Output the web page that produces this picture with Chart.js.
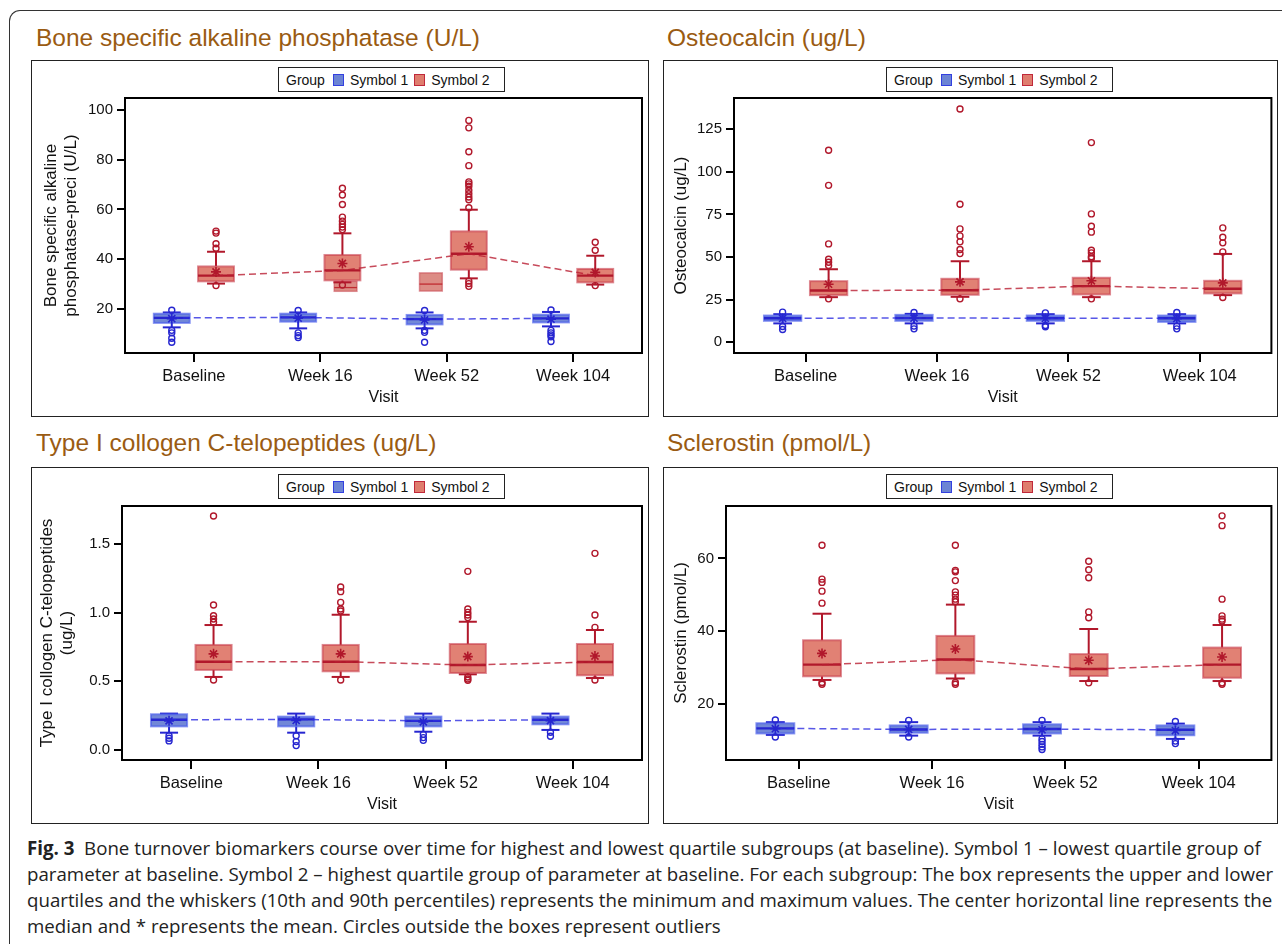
<!DOCTYPE html>
<html>
<head>
<meta charset="utf-8">
<script src="https://cdn.jsdelivr.net/npm/chart.js@4.4.1/dist/chart.umd.min.js"></script>
<style>
  body { margin: 0; width: 1282px; height: 944px; overflow: hidden; background: #fff; position: relative;
         font-family: "Liberation Sans", Arial, sans-serif; }
  #outer { position: absolute; left: 9px; top: 10px; width: 1400px; height: 1000px;
           border-left: 1.5px solid #333; border-top: 1.5px solid #333; border-top-left-radius: 11px; }
  .title { position: absolute; font-size: 24.5px; line-height: 28px; color: #9a5b12; white-space: nowrap; }
  .panel { position: absolute; border: 1.5px solid #222; box-sizing: border-box; }
  canvas { position: absolute; }
  .legend { position: absolute; height: 25px; box-sizing: border-box; border: 1.5px solid #222; background: #fff;
            font-size: 14px; color: #111; display: flex; align-items: center; padding-left: 7px; white-space: nowrap; z-index: 2; }
  .sw { display: inline-block; width: 9px; height: 10px; margin: 0 6px 0 8px; }
  .sw.b { background: #6c84d4; border: 1.5px solid #3340e0; }
  .sw.r { background: #df7d6e; border: 1.5px solid #c0283a; margin-left: 6px; }
  #caption { position: absolute; left: 27px; top: 835px; font-family: "Open Sans", "Noto Sans", sans-serif;
             font-size: 16px; line-height: 26px; color: #222; white-space: nowrap; }
</style>
</head>
<body>
<div id="outer"></div>

<div class="title" style="left:36px;top:24px">Bone specific alkaline phosphatase (U/L)</div>
<div class="title" style="left:667px;top:24px">Osteocalcin (ug/L)</div>
<div class="title" style="left:36px;top:429px">Type I collogen C-telopeptides (ug/L)</div>
<div class="title" style="left:667px;top:429px">Sclerostin (pmol/L)</div>

<div class="panel" style="left:31px;top:60px;width:618px;height:357px"></div>
<div class="panel" style="left:663px;top:60px;width:615px;height:357px"></div>
<div class="panel" style="left:31px;top:467px;width:618px;height:357px"></div>
<div class="panel" style="left:663px;top:467px;width:615px;height:357px"></div>

<canvas id="c1" style="left:31px;top:60px"></canvas>
<canvas id="c2" style="left:663px;top:60px"></canvas>
<canvas id="c3" style="left:31px;top:467px"></canvas>
<canvas id="c4" style="left:663px;top:467px"></canvas>

<div class="legend" style="left:278px;top:67px;width:227px">Group<span class="sw b"></span>Symbol 1<span class="sw r"></span>Symbol 2</div>
<div class="legend" style="left:886px;top:67px;width:227px">Group<span class="sw b"></span>Symbol 1<span class="sw r"></span>Symbol 2</div>
<div class="legend" style="left:278px;top:474px;width:227px">Group<span class="sw b"></span>Symbol 1<span class="sw r"></span>Symbol 2</div>
<div class="legend" style="left:886px;top:474px;width:227px">Group<span class="sw b"></span>Symbol 1<span class="sw r"></span>Symbol 2</div>

<div id="caption">
  <div id="cap1"><b>Fig. 3</b>&nbsp; Bone turnover biomarkers course over time for highest and lowest quartile subgroups (at baseline). Symbol 1 – lowest quartile group of</div>
  <div>parameter at baseline. Symbol 2 – highest quartile group of parameter at baseline. For each subgroup: The box represents the upper and lower</div>
  <div>quartiles and the whiskers (10th and 90th percentiles) represents the minimum and maximum values. The center horizontal line represents the</div>
  <div>median and * represents the mean. Circles outside the boxes represent outliers</div>
</div>

<script>
const visits = ['Baseline', 'Week 16', 'Week 52', 'Week 104'];

// box summaries per visit: [whisker low, q1, median, q3, whisker high]
const bsapBlueBox = [[12.6, 14.4, 16.4, 18.1, 18.6], [12.2, 14.9, 16.6, 18.1, 18.6], [12.2, 13.8, 15.9, 17.6, 18.6], [13.0, 14.6, 16.2, 17.7, 18.8]];
const bsapBlueMean = [16.1, 16.3, 15.6, 15.9];
const bsapBlueOut = [[19.5, 11.4, 10.4, 8.2, 6.6], [19.4, 10.4, 9.3, 8.5], [19.4, 11.4, 10.6, 6.6], [19.6, 11.4, 10.4, 9.6, 8.8, 6.9]];
const bsapRedBox = [[30.2, 31.1, 33.4, 37.1, 43.0], [30.7, 31.5, 35.5, 41.7, 50.4], [32.3, 35.8, 42.2, 51.2, 59.9], [29.8, 30.7, 33.4, 36.1, 41.4]];
const bsapRedMean = [34.9, 38.3, 45.0, 34.7];
const bsapRedOut = [[51.3, 50.5, 46.2, 44.4, 29.4], [68.5, 65.8, 62.0, 56.9, 55.3, 54.0, 52.9, 51.9, 29.6],
  [95.8, 92.8, 83.2, 77.6, 71.1, 70.3, 69.3, 67.7, 66.3, 65.0, 63.9, 60.7, 31.2, 30.2, 29.1], [46.8, 43.6, 29.4]];
// stray boxes that appear in the first panel: x position (visit units), [low, mid, high]
const bsapStrayX = [1.2, 1.875];
const bsapStrayBox = [[27.1, 28.6, 31.1], [27.2, 30.0, 34.5]];

const ocBlueBox = [[11.0, 12.5, 14.0, 15.6, 16.4], [11.0, 12.5, 14.2, 16.0, 16.6], [11.0, 12.5, 14.0, 15.6, 16.4], [11.0, 11.9, 14.0, 15.6, 16.4]];
const ocBlueMean = [13.9, 14.0, 13.9, 13.8];
const ocBlueOut = [[17.6, 9.2, 7.4], [17.4, 9.4, 7.8], [17.2, 9.8, 9.0], [17.4, 9.4, 7.8]];
const ocRedBox = [[26.4, 27.6, 30.3, 35.8, 42.8], [26.6, 27.8, 30.5, 37.2, 47.5], [26.4, 28.0, 32.9, 37.8, 47.5], [27.6, 28.6, 31.3, 36.0, 51.8]];
const ocRedMean = [34.0, 35.4, 36.0, 34.8];
const ocRedOut = [[112.7, 92.1, 57.7, 48.7, 46.9, 45.0, 25.4], [136.9, 81.0, 66.5, 62.4, 58.9, 54.4, 52.0, 25.4],
  [117.2, 75.3, 68.1, 64.6, 54.0, 52.4, 50.1, 49.3, 25.4], [67.1, 61.6, 58.3, 53.0, 26.2]];

const ctxBlueBox = [[0.126, 0.172, 0.220, 0.260, 0.265], [0.126, 0.172, 0.223, 0.243, 0.265], [0.133, 0.172, 0.212, 0.243, 0.265], [0.146, 0.187, 0.220, 0.243, 0.265]];
const ctxBlueMean = [0.212, 0.215, 0.205, 0.214];
const ctxBlueOut = [[0.104, 0.085, 0.066], [0.104, 0.061, 0.032], [0.114, 0.090, 0.070], [0.129, 0.100]];
const ctxRedBox = [[0.532, 0.583, 0.643, 0.765, 0.910], [0.532, 0.573, 0.643, 0.765, 0.985], [0.551, 0.561, 0.619, 0.772, 0.934], [0.524, 0.544, 0.641, 0.772, 0.874]];
const ctxRedMean = [0.700, 0.700, 0.680, 0.684];
const ctxRedOut = [[1.704, 1.056, 0.978, 0.954, 0.930, 0.510], [1.187, 1.153, 1.075, 1.027, 1.012, 0.510],
  [1.301, 1.027, 1.002, 0.983, 0.964, 0.532, 0.517, 0.507], [1.432, 0.983, 0.893, 0.510]];

const sclBlueBox = [[11.5, 11.9, 13.3, 14.7, 15.0], [11.3, 12.1, 13.0, 14.1, 15.0], [11.3, 11.9, 13.1, 14.4, 15.0], [10.4, 11.4, 12.9, 14.1, 14.6]];
const sclBlueMean = [13.2, 13.0, 12.9, 12.7];
const sclBlueOut = [[15.6, 10.9], [15.5, 10.9], [15.5, 10.4, 9.7, 8.9, 8.2, 7.5], [15.2, 9.8, 9.1]];
const sclRedBox = [[26.6, 27.6, 30.8, 37.5, 44.8], [27.0, 28.4, 32.2, 38.7, 47.3], [26.3, 27.7, 29.6, 33.7, 40.6], [26.3, 27.2, 30.8, 35.5, 41.7]];
const sclRedMean = [33.9, 35.1, 32.0, 32.9];
const sclRedOut = [[63.6, 54.3, 53.4, 51.0, 47.7, 25.9, 25.4], [63.6, 56.7, 56.3, 53.9, 50.8, 49.9, 48.8, 48.1, 25.9, 25.4],
  [59.2, 56.9, 54.7, 45.3, 43.7, 25.8], [71.7, 69.0, 48.8, 44.2, 43.3, 42.8, 25.8, 25.4]];

const bsapTicks = [20, 40, 60, 80, 100];
const ocTicks = [0, 25, 50, 75, 100, 125];
const ctxTicks = [0, 0.5, 1.0, 1.5];
const sclTicks = [20, 40, 60];

const SHIFT = 0.175;     // group offset from the visit position
const HALF = 0.142;      // half box width in visit units
const STRAY_HALF = 0.09;

const BLUE = { fill: 'rgba(95,120,210,0.88)', edge: 'rgba(70,90,235,0.65)', dark: '#2626d0', line: 'rgba(45,45,225,0.8)' };
const RED = { fill: 'rgba(222,118,104,0.92)', edge: 'rgba(200,60,75,0.6)', dark: '#b1182b', line: 'rgba(185,30,50,0.8)' };

Chart.defaults.font.family = '"Liberation Sans", Arial, sans-serif';
Chart.defaults.color = '#111';

function boxPlugin(groups, stray) {
  return {
    id: 'boxes',
    beforeDatasetsDraw(chart) {
      const { ctx, scales: { x, y } } = chart;
      const seg = (x1, y1, x2, y2) => { ctx.beginPath(); ctx.moveTo(x1, y1); ctx.lineTo(x2, y2); ctx.stroke(); };
      ctx.save();
      if (stray) {
        stray.x.forEach((sx, i) => {
          const cx = x.getPixelForValue(sx);
          const hw = x.getPixelForValue(sx + STRAY_HALF) - cx;
          const [lo, md, hi] = stray.box[i].map(v => y.getPixelForValue(v));
          ctx.fillStyle = 'rgba(214,120,112,0.85)';
          ctx.fillRect(cx - hw, hi, 2 * hw, lo - hi);
          ctx.strokeStyle = 'rgba(200,70,80,0.55)'; ctx.lineWidth = 1.5;
          ctx.strokeRect(cx - hw, hi, 2 * hw, lo - hi);
          ctx.strokeStyle = '#c02a30'; ctx.lineWidth = 1.3;
          seg(cx - hw, md, cx + hw, md);
        });
      }
      groups.forEach(g => {
        g.box.forEach((b, i) => {
          const cx = x.getPixelForValue(i + g.shift);
          const hw = x.getPixelForValue(i + g.shift + HALF) - cx;
          const [lo, q1, md, q3, hi] = b.map(v => y.getPixelForValue(v));
          ctx.strokeStyle = g.col.dark; ctx.lineWidth = 2;
          seg(cx, q3, cx, hi); seg(cx, q1, cx, lo);
          seg(cx - hw / 2, hi, cx + hw / 2, hi); seg(cx - hw / 2, lo, cx + hw / 2, lo);
          ctx.fillStyle = g.col.fill;
          ctx.fillRect(cx - hw, q3, 2 * hw, q1 - q3);
          ctx.strokeStyle = g.col.edge; ctx.lineWidth = 2;
          ctx.strokeRect(cx - hw, q3, 2 * hw, q1 - q3);
          ctx.strokeStyle = g.col.dark; ctx.lineWidth = 2.4;
          seg(cx - hw, md, cx + hw, md);
        });
      });
      ctx.restore();
    },
    afterDraw(chart) {
      const { ctx, chartArea: a } = chart;
      ctx.save();
      ctx.strokeStyle = '#000'; ctx.lineWidth = 2;
      ctx.strokeRect(a.left, a.top, a.right - a.left, a.bottom - a.top);
      ctx.restore();
    }
  };
}

function makePanel(p) {
  const canvas = document.getElementById(p.id);
  canvas.width = p.w; canvas.height = p.h;
  const groups = [
    { box: p.blueBox, col: BLUE, shift: -SHIFT },
    { box: p.redBox, col: RED, shift: SHIFT }
  ];
  const datasets = [];
  groups.forEach((g, gi) => {
    const out = gi === 0 ? p.blueOut : p.redOut;
    const mean = gi === 0 ? p.blueMean : p.redMean;
    datasets.push({
      data: out.flatMap((vals, i) => vals.map(v => ({ x: i + g.shift, y: v }))),
      pointStyle: 'circle', pointRadius: 3, pointBorderWidth: 1.4,
      pointBorderColor: g.col.dark, pointBackgroundColor: 'rgba(0,0,0,0)', order: 1
    });
    datasets.push({
      data: mean.map((v, i) => ({ x: i + g.shift, y: v })),
      pointStyle: 'star', pointRadius: 5, pointBorderWidth: 1.6,
      pointBorderColor: g.col.dark, pointBackgroundColor: g.col.dark, order: 1
    });
    datasets.push({
      type: 'line',
      data: g.box.map((b, i) => ({ x: i + g.shift, y: b[2] })),
      borderColor: g.col.line, borderWidth: 1.5, borderDash: [7, 4],
      pointRadius: 0, fill: false, tension: 0, order: 2
    });
  });

  new Chart(canvas, {
    type: 'scatter',
    data: { datasets },
    options: {
      responsive: false,
      animation: false,
      layout: { padding: { top: p.padTop, right: p.padRight, left: 0, bottom: 0 } },
      plugins: { legend: { display: false }, tooltip: { enabled: false } },
      scales: {
        x: {
          type: 'linear', min: -0.545, max: 3.545,
          afterBuildTicks: s => { s.ticks = visits.map((_, i) => ({ value: i })); },
          afterFit: s => { s.height = 64; },
          ticks: { callback: v => visits[v] ?? '', font: { size: 16.5 }, color: '#111', padding: 5, maxRotation: 0, autoSkip: false },
          grid: { drawOnChartArea: false, tickLength: 9, color: '#000', lineWidth: 2 },
          border: { display: true, color: '#000', width: 2 },
          title: { display: true, text: 'Visit', font: { size: 16 }, color: '#111', padding: { top: 0, bottom: 10 } }
        },
        y: {
          type: 'linear', min: p.yMin, max: p.yMax,
          afterBuildTicks: s => { s.ticks = p.yTicks.map(v => ({ value: v })); },
          afterFit: s => { s.width = p.axisW; },
          ticks: { callback: v => p.dec ? v.toFixed(p.dec) : String(v), font: { size: 15 }, color: '#111', padding: 4 },
          grid: { drawOnChartArea: false, tickLength: 8, color: '#000', lineWidth: 2 },
          border: { display: true, color: '#000', width: 2 },
          title: { display: true, text: p.yTitle, font: { size: 17, lineHeight: 1.15 }, color: '#111', padding: { top: p.titlePad, bottom: 0 } }
        }
      }
    },
    plugins: [boxPlugin(groups, p.stray)]
  });
}

makePanel({ id: 'c1', w: 618, h: 357, padTop: 38, padRight: 7, axisW: 94, titlePad: 11,
  yMin: 2.3, yMax: 104.8, yTicks: bsapTicks, yTitle: ['Bone specific alkaline', 'phosphatase-preci (U/L)'],
  blueBox: bsapBlueBox, blueMean: bsapBlueMean, blueOut: bsapBlueOut,
  redBox: bsapRedBox, redMean: bsapRedMean, redOut: bsapRedOut,
  stray: { x: bsapStrayX, box: bsapStrayBox } });

makePanel({ id: 'c2', w: 615, h: 357, padTop: 38, padRight: 6, axisW: 71, titlePad: 9,
  yMin: -6.4, yMax: 143.4, yTicks: ocTicks, yTitle: 'Osteocalcin (ug/L)',
  blueBox: ocBlueBox, blueMean: ocBlueMean, blueOut: ocBlueOut,
  redBox: ocRedBox, redMean: ocRedMean, redOut: ocRedOut });

makePanel({ id: 'c3', w: 618, h: 357, padTop: 39, padRight: 7, axisW: 91, titlePad: 7, dec: 1,
  yMin: -0.073, yMax: 1.777, yTicks: ctxTicks, yTitle: ['Type I collogen C-telopeptides', '(ug/L)'],
  blueBox: ctxBlueBox, blueMean: ctxBlueMean, blueOut: ctxBlueOut,
  redBox: ctxRedBox, redMean: ctxRedMean, redOut: ctxRedOut });

makePanel({ id: 'c4', w: 615, h: 357, padTop: 39, padRight: 6, axisW: 63, titlePad: 9,
  yMin: 4.6, yMax: 74.4, yTicks: sclTicks, yTitle: 'Sclerostin (pmol/L)',
  blueBox: sclBlueBox, blueMean: sclBlueMean, blueOut: sclBlueOut,
  redBox: sclRedBox, redMean: sclRedMean, redOut: sclRedOut });

// fit caption font so the first line spans the same width as the figure caption
const cap = document.getElementById('caption');
const first = document.getElementById('cap1');
const range = document.createRange();
range.selectNodeContents(first);
const wNow = range.getBoundingClientRect().width;
cap.style.fontSize = (16 * 1235 / wNow).toFixed(2) + 'px';
</script>
</body>
</html>
